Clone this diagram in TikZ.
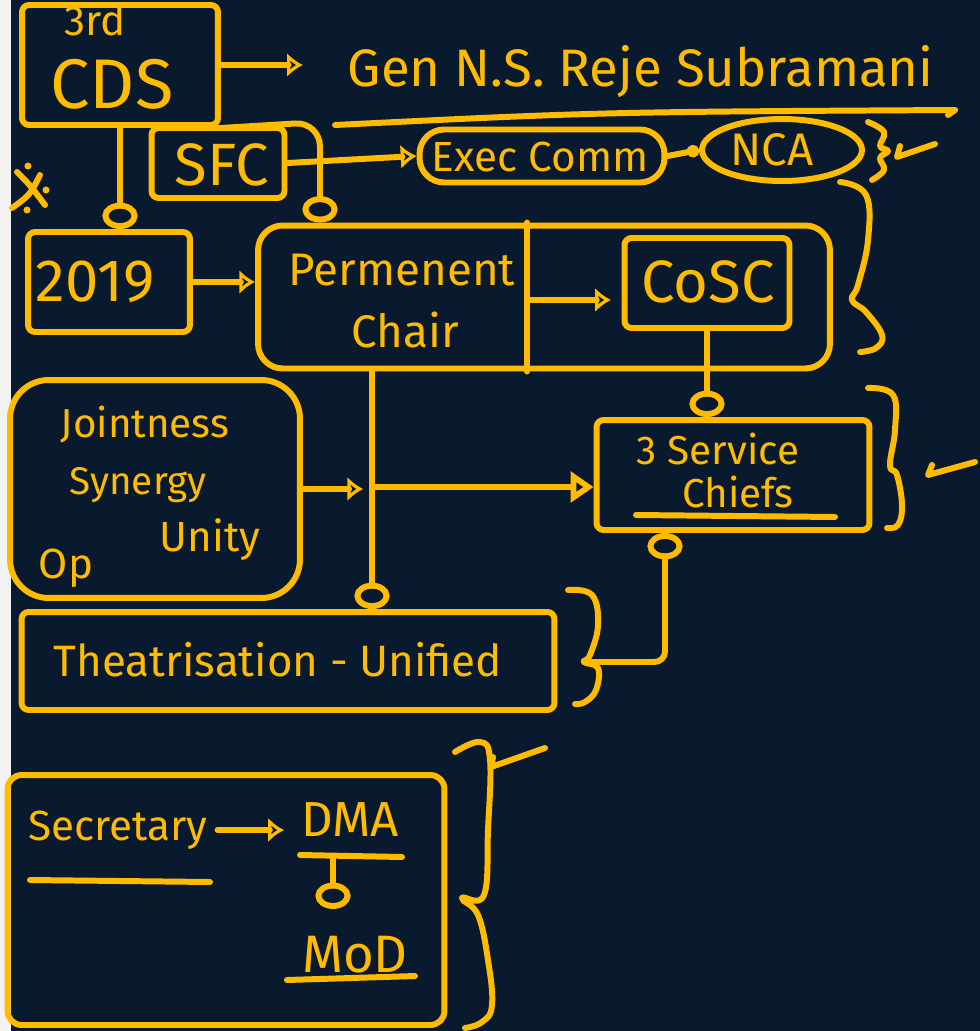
\documentclass[tikz,border=0pt]{standalone}
\usepackage{fontspec}
\setmainfont{Fira Sans}
\usetikzlibrary{arrows.meta,shapes.geometric}
\definecolor{penc}{RGB}{255,187,0}
\definecolor{boardc}{RGB}{9,26,46}
\tikzset{
	box/.style={draw=penc, line width=3.4pt, rounded corners=4pt, inner sep=0pt},
	txt/.style={text=penc, inner sep=0pt, font=\fontsize{#1}{#1}\selectfont},
	dtip/.style={-{Latex[open,length=9pt,width=14pt]}},
	otip/.style={-{Circle[open,length=15pt,width=20pt]}},
	ttip/.style={-{Triangle[open,length=13pt,width=17pt]}},
}
\begin{document}
\begin{tikzpicture}[x=0.02cm, y=-0.02cm, line width=3.4pt, line cap=round, line join=round, penc]
		
		\useasboundingbox (0,0) rectangle (980,1031);
		\fill[boardc] (0,0) rectangle (980,1031);
		\fill[white!90!gray] (0,0) rectangle (11,1031);
		
		\node[box, minimum width=3.92cm, minimum height=2.4cm] (cds) at (120,65) {};
		\node[box, minimum width=2.66cm, minimum height=1.4cm] (sfc) at (218,163) {};
		\node[box, minimum width=3.24cm, minimum height=2cm] (yr) at (109,282) {};
		\node[box, rounded corners=14pt, minimum width=11.44cm, minimum height=2.86cm] (perm) at (544,297) {};
		\node[box, minimum width=3.3cm, minimum height=1.8cm] (cosc) at (707,283) {};
		\node[box, rounded corners=14pt, minimum width=4.9cm, minimum height=1.06cm] (exec) at (542,156) {};
		\node[draw, ellipse, minimum width=3.2cm, minimum height=1.24cm, inner sep=0pt] (nca) at (782,150) {};
		\node[box, rounded corners=22pt, minimum width=5.8cm, minimum height=4.36cm] (joint) at (155,489) {};
		\node[box, minimum width=5.46cm, minimum height=2.2cm] (chiefs) at (733,475) {};
		\node[box, minimum width=10.66cm, minimum height=1.96cm] (theat) at (288,661) {};
		\node[box, rounded corners=8pt, minimum width=8.74cm, minimum height=5cm] (sec) at (226,900) {};
		
		\node[txt=24pt] (third) at (95,20) {3rd};
		\node[txt=40pt] (cdsl) at (112,84) {CDS};
		\node[txt=30pt, anchor=west] (gen) at (345,72) {Gen N.S. Reje Subramani};
		\node[txt=34pt] (sfcl) at (222,165) {SFC};
		\node[txt=24pt] (execl) at (540,157) {Exec Comm};
		\node[txt=26pt] (ncal) at (772,150) {NCA};
		\node[txt=34pt] (yrl) at (95,282) {2019};
		\node[txt=26pt] (perml) at (402,270) {Permenent};
		\node[txt=26pt] (chairl) at (405,330) {Chair};
		\node[txt=34pt] (coscl) at (708,282) {CoSC};
		\node[txt=23pt] (jl1) at (145,425) {Jointness};
		\node[txt=22pt] (jl2) at (138,485) {Synergy};
		\node[txt=24pt] (jl3) at (210,540) {Unity};
		\node[txt=24pt] (jl4) at (66,568) {Op};
		\node[txt=23pt] (chl1) at (718,449) {3 Service};
		\node[txt=23pt] (chl2) at (738,492) {Chiefs};
		\node[txt=25pt] (theatl) at (278,660) {Theatrisation - Unified};
		\node[txt=24pt] (secl) at (118,830) {Secretary};
		\node[txt=28pt] (dmal) at (350,820) {DMA};
		\node[txt=30pt] (modl) at (355,955) {MoD};
		
		\coordinate (bend) at (320,122);
		\coordinate (div) at (527,300);
		\coordinate (trunk) at (372,487);
		\coordinate (tb) at (584,662);
		\coordinate (elbow) at (665,662);
		\coordinate (dmaline) at (333,857);
		
		\draw[dtip, shorten >=24pt] (cds.east) -- (cds.east -| gen.west);
		\draw[otip] (cds.south) -- (cds.south |- yr.north);
		\draw[otip, rounded corners=14pt] (cds.south east) -- (bend) -- (bend |- perm.north);
		\draw[dtip] (sfc.east) -- (exec.west);
		\draw[-{Circle[length=7pt]}] (exec.east) -- (nca.west);
		\draw[dtip] (yr.east) -- (yr.east -| perm.west);
		\draw (div |- perm.north) -- (div |- perm.south);
		\draw[dtip, shorten >=6pt] (div) -- (div -| cosc.west);
		\draw[otip] (cosc.south) -- (cosc.south |- chiefs.north);
		\draw[otip] (trunk |- perm.south) -- (trunk |- theat.north);
		\draw[dtip, shorten >=5pt] (joint.east) -- (joint.east -| trunk);
		\draw[ttip] (trunk) -- (trunk -| chiefs.west);
		\draw[otip, rounded corners=6pt] (tb) -- (elbow) -- (elbow |- chiefs.south);
		\draw[dtip, shorten >=8pt, shorten <=4pt] (secl.east) -- (secl.east -| dmal.west);
		\draw[otip, shorten >=14pt] (dmaline) -- (dmaline |- modl.north);
		
		\draw (335,125) .. controls (600,112) .. (955,110) -- (948,115);
		\draw (636,515) -- (835,517);
		\draw (300,855) -- (402,857);
		\draw (287,980) -- (415,976);
		\draw (30,880) -- (210,882);
		
		\draw plot[smooth, tension=0.7] coordinates {(868,122) (884,132) (880,146) (888,151) (880,158) (884,170) (872,180)};
		\draw plot[smooth, tension=0.7] coordinates {(840,182) (866,195) (868,240) (858,285) (852,300) (866,312) (882,335) (876,348) (860,352)};
		\draw plot[smooth, tension=0.7] coordinates {(868,388) (893,395) (895,430) (890,465) (897,475) (902,505) (898,525) (887,528)};
		\draw plot[smooth, tension=0.7] coordinates {(568,590) (592,595) (598,625) (590,655) (584,662) (598,668) (596,690) (585,702) (575,704)};
		\draw plot[smooth, tension=0.7] coordinates {(455,752) (480,742) (490,760) (488,830) (484,895) (462,898) (478,915) (488,960) (492,1005) (482,1022) (465,1028)};
		
		\draw (900,146) -- (897,157) -- (935,144);
		\draw (932,465) -- (928,475) -- (975,462);
		\draw (493,757) -- (491,767) -- (545,748);
		
		\draw (17,172) .. controls (30,185) .. (45,205);
		\draw (40,175) .. controls (30,195) .. (12,208);
		\foreach \dot in {(28,166),(46,190),(27,210)}
		\fill \dot circle (2pt);
	\end{tikzpicture}
\end{document}
